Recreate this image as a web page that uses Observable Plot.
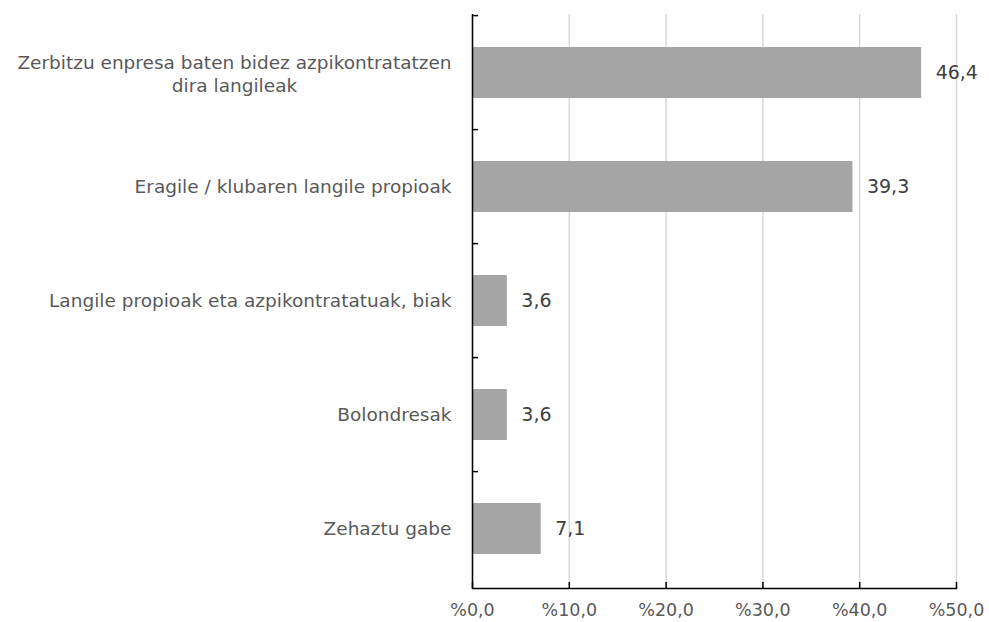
<!DOCTYPE html>
<html>
<head>
<meta charset="utf-8">
<script src="https://cdn.jsdelivr.net/npm/d3@7"></script>
<script src="https://cdn.jsdelivr.net/npm/@observablehq/plot@0.6"></script>
<style>
  html, body { margin: 0; padding: 0; background: #fff; }
  #chart svg { display: block; }
</style>
</head>
<body>
<div id="chart"></div>
<script>
const categories = [
  "Zerbitzu enpresa baten bidez azpikontratatzen\ndira langileak",
  "Eragile / klubaren langile propioak",
  "Langile propioak eta azpikontratatuak, biak",
  "Bolondresak",
  "Zehaztu gabe"
];
const values = [46.4, 39.3, 3.6, 3.6, 7.1];
const xTicks = [0, 10, 20, 30, 40, 50];

const data = categories.map((c, i) => ({category: c, value: values[i]}));
const fmt = v => v.toFixed(1).replace(".", ",");
const multi = data.filter(d => d.category.includes("\n"));

const W = 989, H = 622;
const mTop = 14, mBottom = 34, mLeft = 472, mRight = 33;
const band = (H - mTop - mBottom) / categories.length;

const chart = Plot.plot({
  width: W,
  height: H,
  marginTop: mTop,
  marginBottom: mBottom,
  marginLeft: mLeft,
  marginRight: mRight,
  style: {fontFamily: "'DejaVu Sans', Verdana, sans-serif", fontSize: "18px", background: "#fff"},
  x: {domain: [0, 50]},
  y: {domain: categories, paddingInner: 0.55, paddingOuter: 0.275},
  marks: [
    Plot.gridX(xTicks, {stroke: "#d9d9d9", strokeOpacity: 1, strokeWidth: 1.5}),
    Plot.barX(data, {x: "value", y: "category", fill: "#a5a5a5"}),
    Plot.text(data, {x: "value", y: "category", text: d => fmt(d.value), textAnchor: "start", dx: 14, fill: "#404040", fontSize: 19}),
    Plot.ruleX([0], {stroke: "#000", strokeWidth: 1.5}),
    Plot.frame({anchor: "bottom", stroke: "#000", strokeWidth: 1.5}),
    Plot.axisX({ticks: xTicks, tickSize: 0, tickPadding: 15, tickFormat: d => "%" + fmt(d), fill: "#595959", fontSize: 17.5, label: null}),
    Plot.axisX({ticks: xTicks, tickSize: -6, text: null, stroke: "#000", strokeWidth: 1.5, label: null}),
    Plot.axisY({tickSize: 0, tickPadding: 21, tickFormat: d => d.includes("\n") ? "" : d, fill: "#595959", fontSize: 18.5, label: null}),
    Plot.text(multi, {x: 0, y: "category", text: "category", textAnchor: "middle", dx: -238, fill: "#595959", fontSize: 18.5, lineHeight: 1.22}),
    Plot.axisY({tickSize: -6, text: null, dy: -band / 2, stroke: "#000", strokeWidth: 1.5, label: null})
  ]
});
document.getElementById("chart").appendChild(chart);
</script>
</body>
</html>
